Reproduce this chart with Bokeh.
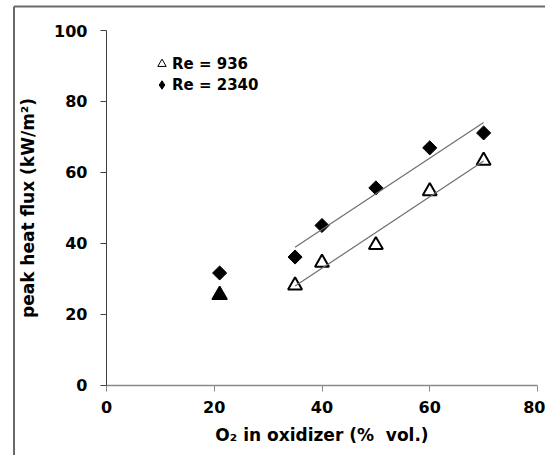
import numpy as np
from bokeh.plotting import figure
from bokeh.models import Legend, LegendItem, FixedTicker, Range1d, ColumnDataSource
from bokeh.embed import file_html
from bokeh.resources import INLINE

# ---- data ----
o2_enriched = [35, 40, 50, 60, 70]          # % O2 in oxidizer
re936 = [28.1, 34.5, 39.5, 54.7, 63.3]      # kW/m2, Re = 936 (open triangles)
re2340 = [36.1, 45.0, 55.6, 66.9, 71.1]     # kW/m2, Re = 2340 (diamonds)
o2_air = [21]
re936_air = [25.4]                          # filled triangle at air
re2340_air = [31.6]                         # diamond at air
x_ticks = [0, 20, 40, 60, 80]
y_ticks = [0, 20, 40, 60, 80, 100]

FONT = "DejaVu Sans"

# frame spans the whole canvas; axes are pinned at 0 inside it
W, H = 545, 455
FL, FT = 0, 0                       # frame left / top on canvas
X0, X80 = 106.0, 537.0              # canvas px of x = 0 and x = 80
Y0, Y100 = 384.5, 30.0              # canvas px of y = 0 and y = 100
sx = (X80 - X0) / 80.0
sy = (Y0 - Y100) / 100.0
x_range = Range1d(-(X0 - FL) / sx, 80 + (W - X80) / sx)
y_range = Range1d(-(H - Y0) / sy, 100 + (Y100 - FT) / sy)

p = figure(width=W, height=H, output_backend="svg", toolbar_location=None, title=None,
           x_range=x_range, y_range=y_range,
           min_border_left=FL, min_border_right=0, min_border_top=FT, min_border_bottom=0,
           background_fill_color="white", border_fill_color="white")
p.outline_line_color = None
p.grid.visible = False

# outer chart border (only its left and top edges fall inside the picture)
bx = (13.5 - X0) / sx
by = 100 + (Y100 - 6.0) / sy
p.line(x=[bx, bx], y=[y_range.start, by], line_color="#6a6a6a", line_width=2)
p.line(x=[bx, x_range.end], y=[by, by], line_color="#6a6a6a", line_width=2)

# axes
p.xaxis.ticker = FixedTicker(ticks=x_ticks)
p.yaxis.ticker = FixedTicker(ticks=y_ticks)
p.xaxis.fixed_location = 0
p.yaxis.fixed_location = 0
p.xaxis.bounds = (0, 80)
p.yaxis.bounds = (0, 100)
for ax in (p.xaxis[0], p.yaxis[0]):
    ax.major_tick_in = 0
    ax.major_tick_out = 6
    ax.minor_tick_line_color = None
    ax.major_label_text_font = FONT
    ax.major_label_text_font_style = "bold"
    ax.major_label_text_font_size = "16px"
    ax.major_label_text_color = "black"
    ax.axis_label_text_font = FONT
    ax.axis_label_text_font_style = "bold"
    ax.axis_label_text_font_size = "17px"
    ax.axis_label_text_color = "black"
p.xaxis.axis_line_color = "#8a8a8a"
p.xaxis.major_tick_line_color = "#8a8a8a"
p.xaxis.axis_line_width = 1.5
p.yaxis.axis_line_color = "#404040"
p.yaxis.major_tick_line_color = "#404040"
p.xaxis.major_label_standoff = 10
p.yaxis.major_label_standoff = 13
p.xaxis.axis_label_standoff = 8
p.yaxis.axis_label_standoff = 13
p.xaxis.axis_label = "O\u2082 in oxidizer (%\u00a0 vol.)"
p.yaxis.axis_label = "peak heat flux (kW/m\u00b2)"

src936 = ColumnDataSource(dict(x=o2_enriched, y=re936))
src2340 = ColumnDataSource(dict(x=o2_enriched, y=re2340))

# legend swatch renderers: small copies hidden underneath the real markers
lg_tri = p.scatter("x", "y", source=src936, marker="triangle", size=5,
                   fill_color="white", line_color="black", line_width=1)
lg_dia = p.scatter("x", "y", source=src2340, marker="diamond", size=6,
                   fill_color="black", line_color="black", line_width=1)

# least-squares trend lines over the enriched points
xf = np.array([min(o2_enriched), max(o2_enriched)], dtype=float)
c1 = np.polyfit(o2_enriched, re2340, 1)
c2 = np.polyfit(o2_enriched, re936, 1)

# markers
p.scatter("x", "y", source=src936, marker="triangle", size=14,
          fill_color="white", line_color="black", line_width=2)
p.scatter(o2_air, re936_air, marker="triangle", size=15,
          fill_color="black", line_color="black", line_width=1.5)
p.scatter("x", "y", source=src2340, marker="square", size=10, angle=np.pi / 4,
          fill_color="black", line_color="black", line_width=1)
p.scatter(o2_air, re2340_air, marker="square", size=10, angle=np.pi / 4,
          fill_color="black", line_color="black", line_width=1)

p.line(xf, np.polyval(c1, xf), line_color="#6e6e6e", line_width=1.2)
p.line(xf, np.polyval(c2, xf), line_color="#6e6e6e", line_width=1.2)

legend = Legend(items=[LegendItem(label="Re = 936", renderers=[lg_tri], index=0),
                       LegendItem(label="Re = 2340", renderers=[lg_dia], index=0)],
                location=(151, 360), orientation="vertical",
                background_fill_alpha=0, border_line_alpha=0,
                padding=0, margin=0, spacing=0,
                glyph_width=21, glyph_height=21, label_standoff=0,
                label_text_font=FONT, label_text_font_style="bold",
                label_text_font_size="15px", label_text_color="black")
p.add_layout(legend)

open("out.html", "w").write(file_html(p, INLINE))
